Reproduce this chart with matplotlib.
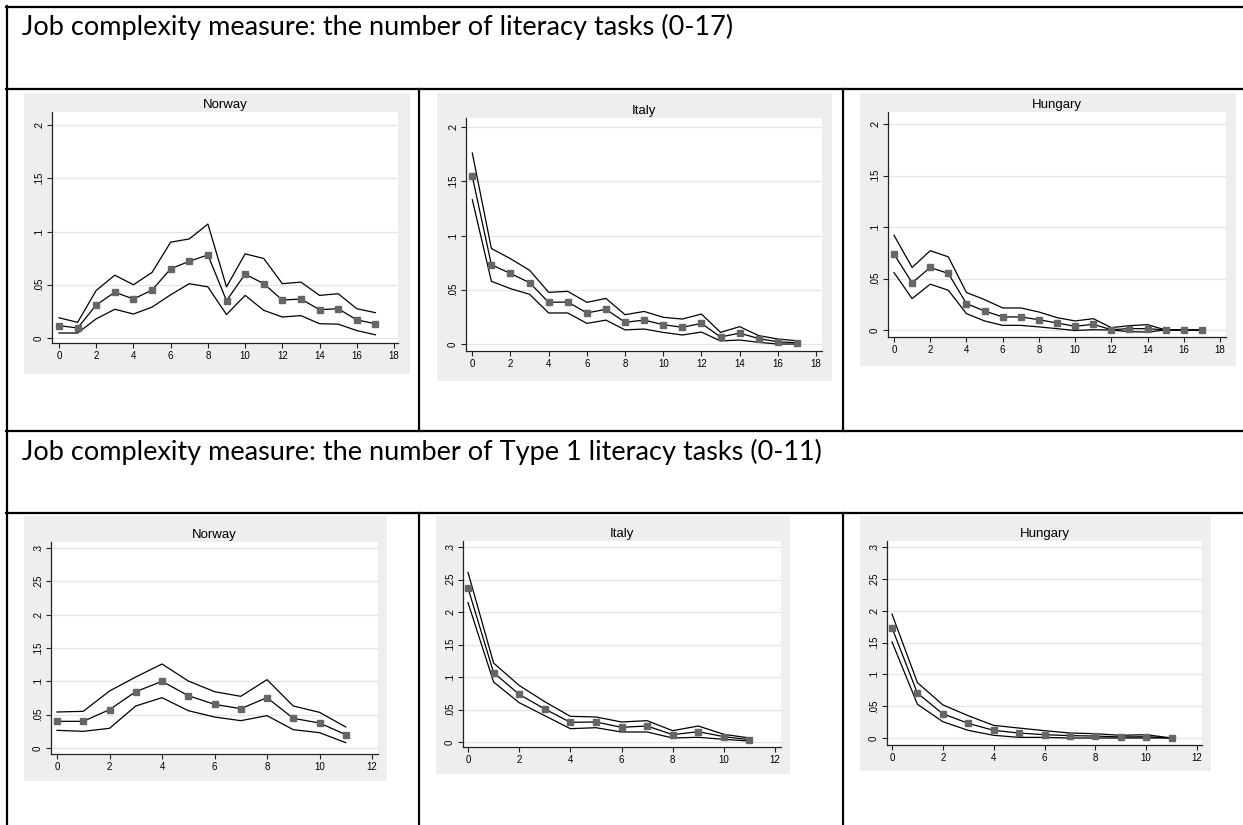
import matplotlib
matplotlib.use("Agg")
import matplotlib.pyplot as plt
from matplotlib.lines import Line2D
import numpy as np

# ---- data ----
x17 = np.arange(18)
x11 = np.arange(12)

nor1_mid = [0.0116, 0.0094, 0.031, 0.043, 0.0366, 0.045, 0.065, 0.072, 0.078, 0.035,
            0.060, 0.051, 0.0356, 0.0366, 0.0266, 0.0275, 0.017, 0.0134]
nor1_hi = [0.019, 0.0147, 0.0447, 0.059, 0.050, 0.0616, 0.090, 0.093, 0.107, 0.048,
           0.079, 0.0747, 0.051, 0.0525, 0.040, 0.0416, 0.0275, 0.0238]
nor1_lo = [0.0047, 0.0047, 0.018, 0.027, 0.0225, 0.029, 0.0406, 0.051, 0.048, 0.022,
           0.040, 0.026, 0.0197, 0.021, 0.0134, 0.013, 0.007, 0.003]

ita1_mid = [0.1545, 0.073, 0.065, 0.0565, 0.0384, 0.0387, 0.0286, 0.032, 0.020, 0.022,
            0.0178, 0.0154, 0.019, 0.0065, 0.010, 0.005, 0.002, 0.0012]
ita1_hi = [0.176, 0.088, 0.0786, 0.068, 0.0476, 0.0485, 0.0384, 0.042, 0.027, 0.030,
           0.0246, 0.023, 0.0276, 0.0107, 0.016, 0.0077, 0.0046, 0.003]
ita1_lo = [0.133, 0.0578, 0.051, 0.0458, 0.0286, 0.0286, 0.019, 0.022, 0.013, 0.0138,
           0.0107, 0.0083, 0.011, 0.0028, 0.0037, 0.0015, 0.0, 0.0]

hun1_mid = [0.0737, 0.0458, 0.0607, 0.0549, 0.0256, 0.0185, 0.0127, 0.0127, 0.010, 0.0068,
            0.0036, 0.0055, 0.0003, 0.0013, 0.0013, 0.0, 0.0, 0.0]
hun1_hi = [0.092, 0.0607, 0.077, 0.071, 0.0364, 0.0295, 0.0214, 0.0214, 0.0175, 0.012,
           0.0088, 0.011, 0.0023, 0.0042, 0.0052, 0.0, 0.0, 0.0]
hun1_lo = [0.0558, 0.0305, 0.0445, 0.0386, 0.0159, 0.0088, 0.0045, 0.0045, 0.003, 0.0013,
           -0.0005, 0.0003, 0.0, -0.0016, -0.002, 0.0, 0.0, 0.0]

nor2_mid = [0.040, 0.040, 0.0575, 0.0845, 0.100, 0.0785, 0.0655, 0.059, 0.0755, 0.0445, 0.0375, 0.020]
nor2_hi = [0.054, 0.055, 0.0855, 0.1065, 0.126, 0.1005, 0.0845, 0.0775, 0.1025, 0.063, 0.0535, 0.0315]
nor2_lo = [0.0265, 0.025, 0.0295, 0.063, 0.0755, 0.056, 0.0465, 0.041, 0.0485, 0.0275, 0.023, 0.008]

ita2_mid = [0.237, 0.1067, 0.0733, 0.0508, 0.0303, 0.0308, 0.0226, 0.0246, 0.0113, 0.0159, 0.0082, 0.0036]
ita2_hi = [0.261, 0.1215, 0.087, 0.062, 0.0395, 0.0385, 0.0308, 0.0328, 0.0174, 0.0246, 0.0118, 0.0062]
ita2_lo = [0.2144, 0.0923, 0.0605, 0.0405, 0.0205, 0.022, 0.0154, 0.0154, 0.0062, 0.0072, 0.0041, 0.0015]

hun2_mid = [0.173, 0.0704, 0.038, 0.023, 0.012, 0.0078, 0.0052, 0.0037, 0.0031, 0.0016, 0.002, 0.0]
hun2_hi = [0.1946, 0.087, 0.052, 0.035, 0.0198, 0.0156, 0.0115, 0.0078, 0.0068, 0.0042, 0.0052, 0.0]
hun2_lo = [0.151, 0.053, 0.0256, 0.012, 0.0042, 0.001, 0.001, 0.0, 0.0, 0.0, 0.0, 0.0]

header1 = "Job complexity measure: the number of literacy tasks (0-17)"
header2 = "Job complexity measure: the number of Type 1 literacy tasks (0-11)"

yt1 = [0, 0.05, 0.1, 0.15, 0.2]
yt1_lab = ["0", ".05", ".1", ".15", ".2"]
yt2 = [0, 0.05, 0.1, 0.15, 0.2, 0.25, 0.3]
yt2_lab = ["0", ".05", ".1", ".15", ".2", ".25", ".3"]
xt1 = list(range(0, 19, 2))
xt2 = list(range(0, 13, 2))

W, H = 1243, 825
fig = plt.figure(figsize=(W / 100, H / 100), dpi=100)
fig.patch.set_facecolor("white")

def fx(px):
    return px / W

def fy(py):
    return 1 - py / H

# ---- table borders ----
lw = 1.6
def hline(y, x0, x1):
    fig.add_artist(Line2D([fx(x0), fx(x1)], [fy(y), fy(y)], color="black", lw=lw))

def vline(x, y0, y1):
    fig.add_artist(Line2D([fx(x), fx(x)], [fy(y0), fy(y1)], color="black", lw=lw))

for y in [7, 89, 431, 513]:
    hline(y, 6, W)
vline(7, 6, H)
for x in [418.5, 842.5]:
    vline(x, 89, 431)
    vline(x, 513, H)

hfont = ["Lato", "DejaVu Sans"]
fig.text(fx(21.5), fy(35), header1, fontsize=19.5, family=hfont, va="baseline", ha="left")
fig.text(fx(21.5), fy(460), header2, fontsize=19.5, family=hfont, va="baseline", ha="left")

# ---- panels ----
def panel(grey, box, xmap, ymap, title, x, lo, mid, hi, yt, ylab, xt):
    gx0, gy0, gx1, gy1 = grey
    bg = fig.add_axes([fx(gx0), fy(gy1), fx(gx1 - gx0), (gy1 - gy0) / H])
    bg.set_facecolor("#eeeeee")
    bg.set_xticks([])
    bg.set_yticks([])
    for s in bg.spines.values():
        s.set_visible(False)
    bg.set_zorder(0)

    l, r, t, b = box
    ax = fig.add_axes([fx(l), fy(b), fx(r - l), (b - t) / H])
    ax.set_zorder(1)
    (px0, xv1, px1) = xmap
    (py0, yv1, py1) = ymap
    sx = (px1 - px0) / xv1
    sy = (py0 - py1) / yv1
    ax.set_xlim((l - px0) / sx, (r - px0) / sx)
    ax.set_ylim((py0 - b) / sy, (py0 - t) / sy)

    ax.set_facecolor("white")
    for yv in yt:
        ax.axhline(yv, color="#e4e4e4", lw=0.9, zorder=0)
    ax.plot(x, hi, color="black", lw=0.9, zorder=2)
    ax.plot(x, lo, color="black", lw=0.9, zorder=2)
    ax.plot(x, mid, color="black", lw=0.9, marker="s", ms=4.3,
            mfc="#666666", mec="#666666", zorder=3)

    ax.spines["top"].set_visible(False)
    ax.spines["right"].set_visible(False)
    ax.spines["left"].set_color("#222222")
    ax.spines["bottom"].set_color("#222222")
    ax.spines["left"].set_linewidth(0.9)
    ax.spines["bottom"].set_linewidth(0.9)
    ax.set_yticks(yt)
    ax.set_yticklabels(ylab, rotation=90, va="center", fontsize=7, family="Liberation Sans")
    ax.set_xticks(xt)
    ax.set_xticklabels([str(v) for v in xt], fontsize=7, family="Liberation Sans")
    ax.tick_params(axis="both", length=3.5, width=0.8, color="#222222", pad=2.5)
    pos = ax.get_position()
    fig.text((pos.x0 + pos.x1) / 2, fy(t - 4), title, ha="center", va="baseline",
             fontsize=9.5, family="Liberation Sans", zorder=5)

panel((24, 93, 410, 374), (52, 398, 112, 343), (59, 18, 394), (338, 0.2, 125),
      "Norway", x17, nor1_lo, nor1_mid, nor1_hi, yt1, yt1_lab, xt1)
panel((437, 93, 832, 381), (466, 822, 118, 351), (472.3, 18, 816), (344, 0.2, 127),
      "Italy", x17, ita1_lo, ita1_mid, ita1_hi, yt1, yt1_lab, xt1)
panel((860, 93, 1236, 366), (888, 1226, 112, 337), (894, 18, 1220), (330, 0.2, 124),
      "Hungary", x17, hun1_lo, hun1_mid, hun1_hi, yt1, yt1_lab, xt1)
panel((24, 516, 387, 781), (51, 378, 542, 754), (57, 12, 372), (748, 0.3, 548),
      "Norway", x11, nor2_lo, nor2_mid, nor2_hi, yt2, yt2_lab, xt2)
panel((436, 516, 790, 774), (463, 781, 541, 747), (468, 12, 775), (742, 0.3, 547),
      "Italy", x11, ita2_lo, ita2_mid, ita2_hi, yt2, yt2_lab, xt2)
panel((860, 516, 1211, 771), (887, 1202, 541, 745), (892, 12, 1197), (738, 0.3, 547),
      "Hungary", x11, hun2_lo, hun2_mid, hun2_hi, yt2, yt2_lab, xt2)

fig.savefig("out.png", dpi=100)
